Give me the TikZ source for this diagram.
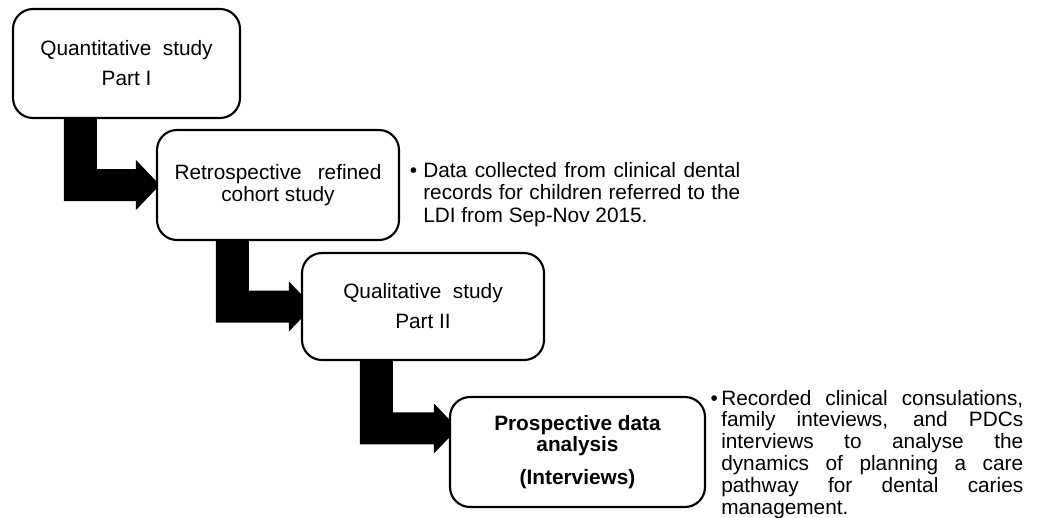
\documentclass[tikz,border=0pt]{standalone}
\usepackage{fontspec}
\setmainfont{Liberation Sans}
\usetikzlibrary{calc}

\pgfdeclarelayer{paper}
\pgfdeclarelayer{arrows}
\pgfsetlayers{paper,arrows,main}

\tikzset{
  stage/.style={draw=black, line width=1.6pt, rounded corners=15pt, fill=white,
    align=center, inner sep=0pt, font=\fontsize{15.6}{22.5}\selectfont},
  blockarrow/.style={fill=black},
  note/.style={inner sep=0pt, anchor=base west}
}

% L-shaped block arrow: #1 source node, #2 shaft offset from its left edge,
% #3 target point, #4 distance of the head base before the target
\newcommand{\bentarrow}[4]{%
  \fill[blockarrow] let \p1=(#1.south west), \p2=#3 in
    (\x1+#2, \y1+4pt) -- (\x1+#2, \y2-12pt) -- (\x2-#4, \y2-12pt)
    -- (\x2-#4, \y2-18.75pt) -- (\x2-#4+18pt, \y2) -- (\x2-#4, \y2+18.75pt)
    -- (\x2-#4, \y2+12pt) -- (\x1+#2+24.75pt, \y2+12pt)
    -- (\x1+#2+24.75pt, \y1+4pt) -- cycle;}

\begin{document}
\begin{tikzpicture}[x=0.75pt, y=-0.75pt]
  \path[use as bounding box] (0,0) rectangle (1040,518);
  \begin{pgfonlayer}{paper}
    \fill[white] (0,0) rectangle (1040,518);
  \end{pgfonlayer}

  % study stages
  \node[stage, minimum width=170.25pt, minimum height=81.75pt] (q1) at (126.5,63.5)
    {Quantitative\hspace{8.6pt}study\\Part I};
  \node[stage, minimum width=181.5pt, minimum height=82.5pt,
        font=\fontsize{15.6}{16.3}\selectfont] (r2) at (278,185)
    {Retrospective\hspace{12pt}refined\\cohort study};
  \node[stage, minimum width=181.5pt, minimum height=80.25pt] (q2) at (423,306.5)
    {Qualitative\hspace{8.6pt}study\\Part II};
  \node[stage, minimum width=191.25pt, minimum height=82.5pt,
        font=\fontsize{15.6}{15.75}\selectfont\bfseries] (p4) at (577.5,452)
    {Prospective data\\analysis\\[9pt](Interviews)};

  % descriptions
  \node[note, font=\fontsize{15.6}{16.9}\selectfont] (n1) at (423,177)
    {\parbox[t]{237.75pt}{\leavevmode\llap{•\hspace{4.5pt}}%
      \makebox[\linewidth][s]{Data collected from clinical dental}\\
      \makebox[\linewidth][s]{records for children referred to the}\\
      LDI from Sep-Nov 2015.}};
  \node[note, font=\fontsize{15.6}{16.35}\selectfont] (n2) at (721,405)
    {\parbox[t]{226.5pt}{\leavevmode\llap{•\hspace{2.5pt}}%
      \makebox[\linewidth][s]{Recorded clinical consulations,}\\
      \makebox[\linewidth][s]{family inteviews, and PDCs}\\
      \makebox[\linewidth][s]{interviews to analyse the}\\
      \makebox[\linewidth][s]{dynamics of planning a care}\\
      \makebox[\linewidth][s]{pathway for dental caries}\\
      management.}};

  % flow arrows between the stages
  \begin{pgfonlayer}{arrows}
    \bentarrow{q1}{39pt}{(r2.west)}{15pt}
    \bentarrow{r2}{45pt}{(q2.west)}{9pt}
    \bentarrow{q2}{44.25pt}{($(p4.north west)!0.29!(p4.south west)$)}{11.25pt}
  \end{pgfonlayer}
\end{tikzpicture}
\end{document}
